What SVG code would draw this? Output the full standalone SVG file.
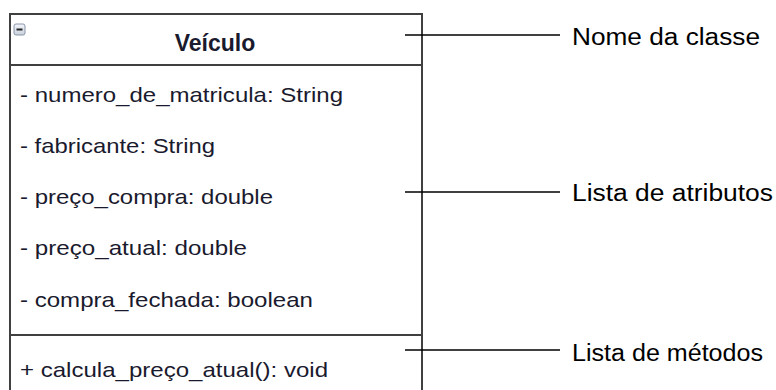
<svg xmlns="http://www.w3.org/2000/svg" width="776" height="390" viewBox="0 0 776 390">
  <style>
    .frame { fill: #ffffff; stroke: #404040; stroke-width: 2; }
    .divider { stroke: #404040; stroke-width: 2; fill: none; }
    .member { font-family: "Liberation Sans", Arial, sans-serif; font-size: 21px; fill: #1a1a2e; }
    .title { font-family: "Liberation Sans", Arial, sans-serif; font-size: 23px; font-weight: bold; fill: #1a1a2e; }
    .note { font-family: "Liberation Sans", Arial, sans-serif; font-size: 23px; fill: #000000; }
    .leader { stroke: #000000; stroke-width: 1.3; fill: none; }
  </style>
  <defs>
    <linearGradient id="iconFill" x1="0" y1="0" x2="0" y2="1">
      <stop offset="0" stop-color="#f4f6fa"/>
      <stop offset="1" stop-color="#c9d1dd"/>
    </linearGradient>
  </defs>
  <rect width="776" height="390" fill="#ffffff"/>

  <!-- UML class box -->
  <g id="class-veiculo">
    <rect class="frame" x="10" y="14" width="412" height="390"/>
    <line class="divider" x1="10" y1="65" x2="422" y2="65"/>
    <line class="divider" x1="10" y1="335" x2="422" y2="335"/>
    <!-- collapse toggle -->
    <rect x="14" y="24" width="11" height="11" rx="2" fill="url(#iconFill)" stroke="#8a96a8" stroke-width="1"/>
    <line x1="16.5" y1="29.5" x2="22.5" y2="29.5" stroke="#222" stroke-width="2"/>
    <text class="title" x="215" y="51" text-anchor="middle">Veículo</text>
    <text class="member" x="20" y="102" textLength="323" lengthAdjust="spacingAndGlyphs">- numero_de_matricula: String</text>
    <text class="member" x="20" y="153" textLength="195" lengthAdjust="spacingAndGlyphs">- fabricante: String</text>
    <text class="member" x="20" y="204" textLength="253" lengthAdjust="spacingAndGlyphs">- preço_compra: double</text>
    <text class="member" x="20" y="255" textLength="227" lengthAdjust="spacingAndGlyphs">- preço_atual: double</text>
    <text class="member" x="20" y="307" textLength="293" lengthAdjust="spacingAndGlyphs">- compra_fechada: boolean</text>
    <text class="member" x="20" y="377" textLength="308" lengthAdjust="spacingAndGlyphs">+ calcula_preço_atual(): void</text>
  </g>

  <!-- callout leaders -->
  <g id="connectors">
    <line class="leader" x1="405" y1="35" x2="560" y2="35"/>
    <line class="leader" x1="405" y1="192" x2="560" y2="192"/>
    <line class="leader" x1="405" y1="350" x2="560" y2="350"/>
  </g>

  <g id="label-nome">
    <text class="note" x="572" y="45" textLength="188" lengthAdjust="spacingAndGlyphs">Nome da classe</text>
  </g>
  <g id="label-atributos">
    <text class="note" x="572" y="201" textLength="201" lengthAdjust="spacingAndGlyphs">Lista de atributos</text>
  </g>
  <g id="label-metodos">
    <text class="note" x="572" y="361" textLength="191" lengthAdjust="spacingAndGlyphs">Lista de métodos</text>
  </g>
</svg>
